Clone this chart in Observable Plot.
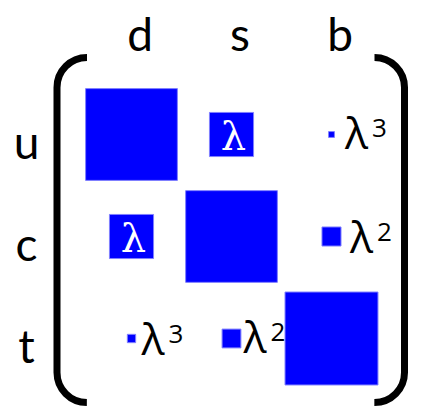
<!DOCTYPE html>
<html>
<head>
<meta charset="utf-8">
<script src="https://cdn.jsdelivr.net/npm/d3@7"></script>
<script src="https://cdn.jsdelivr.net/npm/@observablehq/plot@0.6"></script>
<style>
  html, body { margin: 0; padding: 0; background: #fff; }
</style>
</head>
<body>
<div id="chart"></div>
<script>
// Quark flavours
const cols = ["d", "s", "b"];
const rows = ["u", "c", "t"];
// Magnitudes (square area ∝ value), row-major
const magU = [0.974, 0.225, 0.004];
const magC = [0.225, 0.973, 0.042];
const magT = [0.008, 0.041, 0.999];
// Labels inside squares
const innerLabels = [
  { row: "u", col: "s", text: "λ" },
  { row: "c", col: "d", text: "λ" }
];
// Labels beside small squares
const sideLabels = [
  { row: "u", col: "b", base: "λ", exp: "3" },
  { row: "c", col: "b", base: "λ", exp: "2" },
  { row: "t", col: "d", base: "λ", exp: "3" },
  { row: "t", col: "s", base: "λ", exp: "2" }
];

// Build table
const mags = [magU, magC, magT];
const cells = [];
rows.forEach((r, i) => cols.forEach((c, j) => cells.push({ row: r, col: c, value: mags[i][j] })));

// Style offsets for side labels (pixels)
const sideOffset = {
  "u-b": { dx: 13.5, dy: 14 },
  "c-b": { dx: 18.5, dy: 16.5 },
  "t-d": { dx: 10, dy: 16 },
  "t-s": { dx: 12, dy: 14.5 }
};

const blue = "#0000ff";
const W = 424, H = 411;
const mL = 56.5, mR = 20, mT = 57, mB = 9;
const rx = 30;
const fw = W - mL - mR, fh = H - mT - mB;
const arc = Math.PI / 2 * rx;
const gapH = fw - 2 * rx;
const dashV = 2 * arc + (fh - 2 * rx);

const marks = [
  Plot.frame({ rx: rx, ry: rx, stroke: "black", strokeWidth: 7,
    strokeDasharray: `0 ${gapH} ${dashV} ${gapH} ${dashV}` }),
  Plot.dot(cells, { x: "col", y: "row", r: "value", symbol: "square",
    fill: blue, stroke: "#8080ff", strokeWidth: 1 }),
  Plot.text(cols, { x: d => d, frameAnchor: "top", dx: 8.5, dy: -7, lineAnchor: "bottom",
    fontSize: 46, fontFamily: "Lato, 'Open Sans', sans-serif", fill: "black" }),
  Plot.text(rows, { y: d => d, frameAnchor: "left", dx: -30.5, dy: 24.5, lineAnchor: "bottom",
    textAnchor: "middle", fontSize: 46, fontFamily: "Lato, 'Open Sans', sans-serif", fill: "black" }),
  Plot.text(innerLabels, { x: "col", y: "row", text: "text", dx: 2, dy: 15.5, lineAnchor: "bottom",
    fontSize: 40, fontFamily: "'DejaVu Serif', serif", fill: "white" })
];

for (const l of sideLabels) {
  const o = sideOffset[l.row + "-" + l.col];
  marks.push(Plot.text([l], { x: "col", y: "row", text: "base", dx: o.dx, dy: o.dy,
    textAnchor: "start", lineAnchor: "bottom", fontSize: 43,
    fontFamily: "'Open Sans', 'DejaVu Sans', sans-serif", fill: "black" }));
  marks.push(Plot.text([l], { x: "col", y: "row", text: "exp", dx: o.dx + 27, dy: o.dy - 12,
    textAnchor: "start", lineAnchor: "bottom", fontSize: 26,
    fontFamily: "'Open Sans', 'DejaVu Sans', sans-serif", fill: "black" }));
}

const chart = Plot.plot({
  width: W,
  height: H,
  marginLeft: mL, marginRight: mR, marginTop: mT, marginBottom: mB,
  x: { type: "point", domain: cols, range: [130, 331.5], padding: 0, axis: null },
  y: { type: "point", domain: rows, range: [133, 338], padding: 0, axis: null },
  r: { type: "sqrt", domain: [0, 1], range: [0, 93 / Math.sqrt(Math.PI)] },
  style: { background: "white", overflow: "visible" },
  marks
});
document.getElementById("chart").appendChild(chart);
</script>
</body>
</html>
